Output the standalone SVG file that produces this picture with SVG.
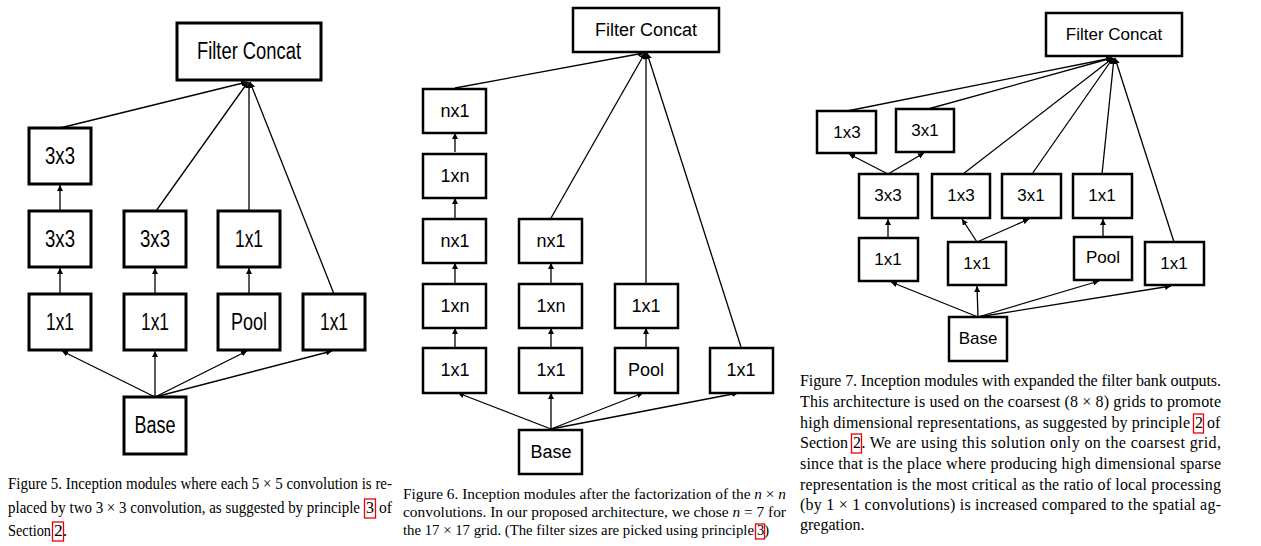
<svg xmlns="http://www.w3.org/2000/svg" width="1261" height="546" viewBox="0 0 1261 546">
<style>
.b5{fill:#fff;stroke:#000;stroke-width:3}
.b{fill:#fff;stroke:#000;stroke-width:2.5}
.t5{font-family:"Liberation Sans",Arial,sans-serif;font-size:23px;text-anchor:middle;fill:#000}
.t6{font-family:"Liberation Sans",Arial,sans-serif;font-size:18px;text-anchor:middle;fill:#000}
.t7{font-family:"Liberation Sans",Arial,sans-serif;font-size:17px;text-anchor:middle;fill:#000}
.c{fill:none;stroke:#000;stroke-width:1.3;marker-end:url(#ah)}
.cap{font-family:"Liberation Serif","Times New Roman",serif;fill:#000}
.lk{fill:none;stroke:#e00;stroke-width:1.3}
</style>
<defs>
<marker id="ah" viewBox="0 0 10 10" refX="10" refY="5" markerWidth="6" markerHeight="6" markerUnits="userSpaceOnUse" orient="auto">
<path d="M0,0 L10,5 L0,10 z" fill="#000"/>
</marker>
</defs>
<rect width="1261" height="546" fill="#fff"/>

<g id="connectors">
<line class="c" x1="60" y1="128" x2="247" y2="82"/>
<line class="c" x1="156" y1="211" x2="248" y2="82"/>
<line class="c" x1="249" y1="211" x2="249" y2="82"/>
<line class="c" x1="334" y1="294" x2="250" y2="82"/>
<line class="c" x1="60" y1="211" x2="60" y2="185"/>
<line class="c" x1="60" y1="294" x2="60" y2="268"/>
<line class="c" x1="155" y1="294" x2="155" y2="268"/>
<line class="c" x1="249" y1="294" x2="249" y2="268"/>
<line class="c" x1="155" y1="397" x2="62" y2="351"/>
<line class="c" x1="155" y1="397" x2="155" y2="351"/>
<line class="c" x1="155" y1="397" x2="247" y2="351"/>
<line class="c" x1="155" y1="397" x2="332" y2="351"/>
<line class="c" x1="455" y1="88" x2="644" y2="53"/>
<line class="c" x1="551" y1="218" x2="645" y2="53"/>
<line class="c" x1="646" y1="283" x2="646" y2="53"/>
<line class="c" x1="741" y1="347" x2="647" y2="53"/>
<line class="c" x1="455" y1="152" x2="455" y2="133"/>
<line class="c" x1="455" y1="218" x2="455" y2="198"/>
<line class="c" x1="455" y1="283" x2="455" y2="263"/>
<line class="c" x1="455" y1="347" x2="455" y2="328"/>
<line class="c" x1="551" y1="283" x2="551" y2="263"/>
<line class="c" x1="551" y1="347" x2="551" y2="328"/>
<line class="c" x1="646" y1="347" x2="646" y2="328"/>
<line class="c" x1="551" y1="429" x2="458" y2="393"/>
<line class="c" x1="551" y1="429" x2="551" y2="393"/>
<line class="c" x1="551" y1="429" x2="643" y2="393"/>
<line class="c" x1="551" y1="429" x2="738" y2="393"/>
<line class="c" x1="847" y1="111" x2="1112" y2="58"/>
<line class="c" x1="928" y1="109" x2="1112" y2="58"/>
<line class="c" x1="963" y1="174" x2="1113" y2="58"/>
<line class="c" x1="1032" y1="174" x2="1113" y2="58"/>
<line class="c" x1="1102" y1="174" x2="1114" y2="58"/>
<line class="c" x1="1174" y1="242" x2="1115" y2="58"/>
<line class="c" x1="888" y1="174" x2="849" y2="154"/>
<line class="c" x1="888" y1="174" x2="924" y2="153"/>
<line class="c" x1="888" y1="238" x2="888" y2="219"/>
<line class="c" x1="977" y1="242" x2="962" y2="219"/>
<line class="c" x1="977" y1="242" x2="1029" y2="219"/>
<line class="c" x1="1103" y1="237" x2="1103" y2="219"/>
<line class="c" x1="978" y1="317" x2="891" y2="282"/>
<line class="c" x1="978" y1="317" x2="977" y2="286"/>
<line class="c" x1="978" y1="317" x2="1099" y2="281"/>
<line class="c" x1="978" y1="317" x2="1171" y2="286"/>
</g>

<g id="f5-concat"><rect class="b5" x="177" y="23" width="144" height="57"/><text class="t5" x="249" y="59" textLength="104" lengthAdjust="spacingAndGlyphs">Filter Concat</text></g>
<g id="f5-3x3a"><rect class="b5" x="29" y="128" width="62" height="56"/><text class="t5" x="60" y="164" textLength="30" lengthAdjust="spacingAndGlyphs">3x3</text></g>
<g id="f5-3x3b"><rect class="b5" x="29" y="211" width="62" height="56"/><text class="t5" x="60" y="247" textLength="30" lengthAdjust="spacingAndGlyphs">3x3</text></g>
<g id="f5-3x3c"><rect class="b5" x="124" y="211" width="62" height="56"/><text class="t5" x="155" y="247" textLength="30" lengthAdjust="spacingAndGlyphs">3x3</text></g>
<g id="f5-1x1a"><rect class="b5" x="218" y="211" width="62" height="56"/><text class="t5" x="249" y="247" textLength="28" lengthAdjust="spacingAndGlyphs">1x1</text></g>
<g id="f5-1x1b"><rect class="b5" x="29" y="294" width="62" height="56"/><text class="t5" x="60" y="330" textLength="28" lengthAdjust="spacingAndGlyphs">1x1</text></g>
<g id="f5-1x1c"><rect class="b5" x="124" y="294" width="62" height="56"/><text class="t5" x="155" y="330" textLength="28" lengthAdjust="spacingAndGlyphs">1x1</text></g>
<g id="f5-pool"><rect class="b5" x="218" y="294" width="62" height="56"/><text class="t5" x="249" y="330" textLength="36" lengthAdjust="spacingAndGlyphs">Pool</text></g>
<g id="f5-1x1d"><rect class="b5" x="303" y="294" width="62" height="56"/><text class="t5" x="334" y="330" textLength="28" lengthAdjust="spacingAndGlyphs">1x1</text></g>
<g id="f5-base"><rect class="b5" x="124" y="397" width="62" height="57"/><text class="t5" x="155" y="433" textLength="41" lengthAdjust="spacingAndGlyphs">Base</text></g>

<g id="f6-concat"><rect class="b" x="573" y="8" width="146" height="44"/><text class="t6" x="646" y="36">Filter Concat</text></g>
<g id="f6-a1"><rect class="b" x="423" y="89" width="63" height="44"/><text class="t6" x="455" y="117">nx1</text></g>
<g id="f6-a2"><rect class="b" x="423" y="154" width="63" height="44"/><text class="t6" x="455" y="182">1xn</text></g>
<g id="f6-a3"><rect class="b" x="423" y="219" width="63" height="44"/><text class="t6" x="455" y="247">nx1</text></g>
<g id="f6-a4"><rect class="b" x="423" y="284" width="63" height="44"/><text class="t6" x="455" y="312">1xn</text></g>
<g id="f6-a5"><rect class="b" x="423" y="348" width="63" height="45"/><text class="t6" x="455" y="376">1x1</text></g>
<g id="f6-b3"><rect class="b" x="519" y="219" width="63" height="44"/><text class="t6" x="551" y="247">nx1</text></g>
<g id="f6-b4"><rect class="b" x="519" y="284" width="63" height="44"/><text class="t6" x="551" y="312">1xn</text></g>
<g id="f6-b5"><rect class="b" x="519" y="348" width="63" height="45"/><text class="t6" x="551" y="376">1x1</text></g>
<g id="f6-c4"><rect class="b" x="615" y="284" width="63" height="44"/><text class="t6" x="646" y="312">1x1</text></g>
<g id="f6-c5"><rect class="b" x="615" y="348" width="63" height="45"/><text class="t6" x="646" y="376">Pool</text></g>
<g id="f6-d5"><rect class="b" x="710" y="348" width="63" height="45"/><text class="t6" x="741" y="376">1x1</text></g>
<g id="f6-base"><rect class="b" x="519" y="430" width="63" height="44"/><text class="t6" x="551" y="458">Base</text></g>

<g id="f7-concat"><rect class="b" x="1046" y="13" width="136" height="43"/><text class="t7" x="1114" y="40">Filter Concat</text></g>
<g id="f7-1x3t"><rect class="b" x="817" y="111" width="59" height="42"/><text class="t7" x="847" y="138">1x3</text></g>
<g id="f7-3x1t"><rect class="b" x="896" y="109" width="58" height="43"/><text class="t7" x="925" y="136">3x1</text></g>
<g id="f7-3x3"><rect class="b" x="859" y="174" width="59" height="44"/><text class="t7" x="888" y="201">3x3</text></g>
<g id="f7-1x3"><rect class="b" x="932" y="174" width="58" height="44"/><text class="t7" x="961" y="201">1x3</text></g>
<g id="f7-3x1"><rect class="b" x="1002" y="174" width="59" height="44"/><text class="t7" x="1031" y="201">3x1</text></g>
<g id="f7-1x1r2"><rect class="b" x="1073" y="174" width="59" height="44"/><text class="t7" x="1102" y="201">1x1</text></g>
<g id="f7-1x1a"><rect class="b" x="859" y="238" width="59" height="43"/><text class="t7" x="888" y="265">1x1</text></g>
<g id="f7-1x1b"><rect class="b" x="948" y="242" width="58" height="43"/><text class="t7" x="977" y="269">1x1</text></g>
<g id="f7-pool"><rect class="b" x="1074" y="237" width="58" height="43"/><text class="t7" x="1103" y="263">Pool</text></g>
<g id="f7-1x1c"><rect class="b" x="1145" y="242" width="59" height="43"/><text class="t7" x="1174" y="269">1x1</text></g>
<g id="f7-base"><rect class="b" x="949" y="317" width="58" height="44"/><text class="t7" x="978" y="344">Base</text></g>

<g id="cap5" class="cap" font-size="17.5">
<text x="8" y="489" textLength="384" lengthAdjust="spacingAndGlyphs">Figure 5. Inception modules where each 5 × 5 convolution is re-</text>
<text x="8" y="513" textLength="352" lengthAdjust="spacingAndGlyphs">placed by two 3 × 3 convolution, as suggested by principle</text>
<text x="366" y="513" textLength="8" lengthAdjust="spacingAndGlyphs">3</text><text x="379" y="513" textLength="13" lengthAdjust="spacingAndGlyphs">of</text>
<text x="8" y="536" textLength="43" lengthAdjust="spacingAndGlyphs">Section</text><text x="54" y="536">2.</text>
<rect class="lk" x="364.5" y="499" width="11" height="19"/>
<rect class="lk" x="52.5" y="522" width="11" height="19"/>
</g>
<g id="cap6" class="cap" font-size="14.5">
<text x="403" y="499" textLength="383" lengthAdjust="spacingAndGlyphs">Figure 6. Inception modules after the factorization of the <tspan font-style="italic">n</tspan> × <tspan font-style="italic">n</tspan></text>
<text x="403" y="517" textLength="383" lengthAdjust="spacingAndGlyphs">convolutions.  In our proposed architecture, we chose <tspan font-style="italic">n</tspan> = 7 for</text>
<text x="403" y="535" textLength="351" lengthAdjust="spacingAndGlyphs">the 17 × 17 grid. (The filter sizes are picked using principle</text>
<text x="757" y="535">3)</text>
<rect class="lk" x="755.5" y="524" width="9" height="15"/>
</g>
<g id="cap7" class="cap" font-size="16">
<text x="800" y="386" textLength="421" lengthAdjust="spacing">Figure 7. Inception modules with expanded the filter bank outputs.</text>
<text x="800" y="407" textLength="421" lengthAdjust="spacing">This architecture is used on the coarsest (8 × 8) grids to promote</text>
<text x="800" y="428" textLength="390" lengthAdjust="spacing">high dimensional representations, as suggested by principle</text>
<text x="1195" y="428">2</text><text x="1207" y="428">of</text>
<text x="800" y="448">Section</text>
<text x="853" y="448" textLength="368" lengthAdjust="spacing">2.  We are using this solution only on the coarsest grid,</text>
<text x="800" y="469" textLength="421" lengthAdjust="spacing">since that is the place where producing high dimensional sparse</text>
<text x="800" y="490" textLength="421" lengthAdjust="spacing">representation is the most critical as the ratio of local processing</text>
<text x="800" y="510" textLength="421" lengthAdjust="spacing">(by 1 × 1 convolutions) is increased compared to the spatial ag-</text>
<text x="800" y="530">gregation.</text>
<rect class="lk" x="1193.5" y="414" width="10" height="19"/>
<rect class="lk" x="851.5" y="434" width="10" height="19"/>
</g>
</svg>
